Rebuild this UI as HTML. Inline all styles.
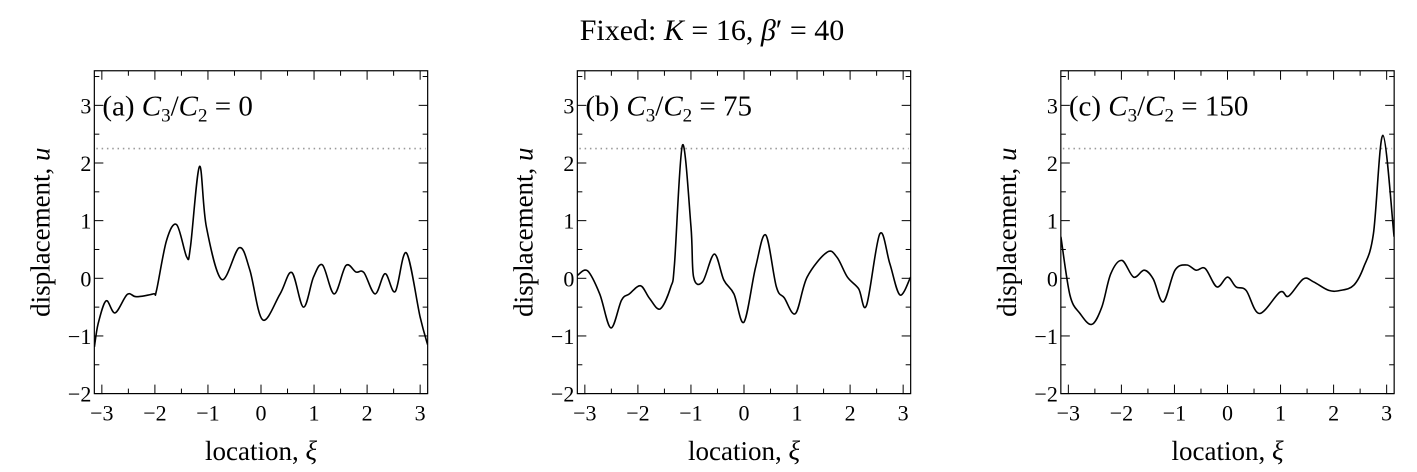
<!DOCTYPE html>
<html><head><meta charset="utf-8"><style>
html,body{margin:0;padding:0;background:#fff;}
svg{display:block;font-family:"Liberation Serif",serif;}
</style></head><body>
<svg id="chart" width="1417" height="472" viewBox="0 0 1417 472" xmlns="http://www.w3.org/2000/svg">
<text x="712" y="40" font-size="30" text-anchor="middle">Fixed: <tspan font-style="italic">K</tspan> = 16, <tspan font-style="italic">β</tspan>′ = 40</text>
</svg>
<script>
const xTicks = [-3,-2,-1,0,1,2,3];
const yTicks = [-2,-1,0,1,2,3];
const thresholdValue = 2.25;
const panelLabels = ["(a)","(b)","(c)"];
const ratioValues = ["0","75","150"];
const seriesAX = [-3.14,-3.07,-2.92,-2.75,-2.52,-2.35,-2.03,-1.97,-1.78,-1.59,-1.40,-1.33,-1.16,-1.03,-0.74,-0.41,-0.21,0.03,0.36,0.58,0.80,0.99,1.16,1.38,1.60,1.79,1.94,2.15,2.34,2.53,2.74,3.0,3.14];
const seriesAY = [-1.19,-0.79,-0.39,-0.60,-0.28,-0.32,-0.27,-0.21,0.66,0.93,0.37,0.54,1.94,0.89,-0.02,0.53,0.14,-0.72,-0.27,0.10,-0.50,0.02,0.23,-0.27,0.22,0.11,0.10,-0.27,0.08,-0.23,0.44,-0.67,-1.15];
const seriesBX = [-3.14,-2.95,-2.72,-2.51,-2.31,-2.16,-1.95,-1.78,-1.58,-1.38,-1.31,-1.16,-1.0,-0.95,-0.78,-0.56,-0.38,-0.19,0,0.22,0.41,0.61,0.76,0.97,1.19,1.56,1.75,1.95,2.16,2.31,2.56,2.75,2.94,3.14];
const seriesBY = [0.05,0.13,-0.27,-0.86,-0.38,-0.27,-0.13,-0.35,-0.53,-0.15,0.25,2.31,0.89,0.02,-0.06,0.42,-0.03,-0.27,-0.76,0.2,0.75,-0.15,-0.34,-0.61,0.02,0.45,0.37,0.02,-0.18,-0.47,0.77,0.25,-0.29,0.02];
const seriesCX = [-3.14,-2.97,-2.78,-2.56,-2.37,-2.20,-1.99,-1.77,-1.57,-1.40,-1.21,-0.99,-0.77,-0.59,-0.42,-0.20,0,0.16,0.35,0.60,0.99,1.15,1.43,1.62,1.91,2.13,2.38,2.57,2.75,2.93,3.14];
const seriesCY = [0.72,-0.29,-0.61,-0.80,-0.50,0.08,0.31,0.02,0.14,-0.01,-0.41,0.14,0.23,0.14,0.17,-0.15,0.02,-0.15,-0.21,-0.61,-0.24,-0.31,-0.01,-0.06,-0.21,-0.21,-0.12,0.20,0.77,2.48,0.72];

const NS="http://www.w3.org/2000/svg";
const svg=document.getElementById('chart');
const XMIN=-Math.PI, XMAX=Math.PI, YMIN=-2, YMAX=3.6;
const UX=53.05, UY=57.65, Y0=278.3;
const zeros=[261,744,1227.5];
const seriesX=[seriesAX,seriesBX,seriesCX];
const seriesY=[seriesAY,seriesBY,seriesCY];
function mk(tag,attrs,parent){const e=document.createElementNS(NS,tag);for(const k in attrs)e.setAttribute(k,attrs[k]);(parent||svg).appendChild(e);return e;}

zeros.forEach((z,p)=>{
  const sx=v=>z+v*UX, sy=v=>Y0-v*UY;
  const g=mk('g',{});
  
  
  const L=sx(XMIN),R=sx(XMAX),T=sy(YMAX),B=sy(YMIN);
  // threshold
  const th=mk('line',{x1:L+2,x2:R-2,y1:sy(thresholdValue),y2:sy(thresholdValue),stroke:'#999','stroke-width':1.6,'stroke-dasharray':'1.5 3.8'},g);
  
  
  // ticks
  for(let v=-3;v<=3.01;v+=0.5){
    const len=Number.isInteger(v)?9:5;
    mk('line',{x1:sx(v),x2:sx(v),y1:B,y2:B-len,stroke:'#000','stroke-width':1},g);
    mk('line',{x1:sx(v),x2:sx(v),y1:T,y2:T+len,stroke:'#000','stroke-width':1},g);
  }
  for(let v=-2;v<=3.51;v+=0.5){
    const len=Number.isInteger(v)?9:5;
    mk('line',{x1:L,x2:L+len,y1:sy(v),y2:sy(v),stroke:'#000','stroke-width':1},g);
    mk('line',{x1:R,x2:R-len,y1:sy(v),y2:sy(v),stroke:'#000','stroke-width':1},g);
  }
  xTicks.forEach(v=>{
    const t=mk('text',{x:sx(v),y:B+27,'font-size':22,'text-anchor':'middle'},g);
    t.textContent=v<0?'−'+Math.abs(v):String(v);
    
    
  });
  yTicks.forEach(v=>{
    const t=mk('text',{x:L-3,y:sy(v)+8,'font-size':22,'text-anchor':'end'},g);
    t.textContent=v<0?'−'+Math.abs(v):String(v);
    
    
  });
  // curve (Catmull-Rom)
  const xs=seriesX[p], ys=seriesY[p];
  const pts=xs.map((x,i)=>[sx(x),sy(ys[i])]);
  let d='M'+pts[0][0].toFixed(1)+','+pts[0][1].toFixed(1);
  for(let i=0;i<pts.length-1;i++){
    const p0=pts[Math.max(0,i-1)],p1=pts[i],p2=pts[i+1],p3=pts[Math.min(pts.length-1,i+2)];
    const c1=[p1[0]+(p2[0]-p0[0])/6,p1[1]+(p2[1]-p0[1])/6];
    const c2=[p2[0]-(p3[0]-p1[0])/6,p2[1]-(p3[1]-p1[1])/6];
    d+=`C${c1[0].toFixed(1)},${c1[1].toFixed(1)} ${c2[0].toFixed(1)},${c2[1].toFixed(1)} ${p2[0].toFixed(1)},${p2[1].toFixed(1)}`;
  }
  const cp=mk('clipPath',{id:'clip'+p},g);
  mk('rect',{x:L,y:T,width:R-L,height:B-T},cp);
  const path=mk('path',{d:d,fill:'none',stroke:'#000','stroke-width':1.6,'clip-path':`url(#clip${p})`},g);
  
  
  const fr=mk('rect',{x:L,y:T,width:R-L,height:B-T,fill:'none',stroke:'#000','stroke-width':1.2},g);
  
  
  // panel label
  const pl=mk('text',{x:L+8,y:sy(3)+10,'font-size':29},g);
  pl.innerHTML=panelLabels[p]+' <tspan font-style="italic">C</tspan><tspan font-size="19" dy="6">3</tspan><tspan dy="-6">/</tspan><tspan font-style="italic">C</tspan><tspan font-size="19" dy="6">2</tspan><tspan dy="-6"> = '+ratioValues[p]+'</tspan>';
  
  
  const xl=mk('text',{x:(L+R)/2,y:460,'font-size':27,'text-anchor':'middle'},g);
  xl.innerHTML='location, <tspan font-style="italic">ξ</tspan>';
  
  
  const yl=mk('text',{x:0,y:0,'font-size':27,'text-anchor':'middle',transform:`translate(${L-45},${(T+B)/2}) rotate(-90)`},g);
  yl.innerHTML='displacement, <tspan font-style="italic">u</tspan>';
  
  
});
</script>
</body></html>
